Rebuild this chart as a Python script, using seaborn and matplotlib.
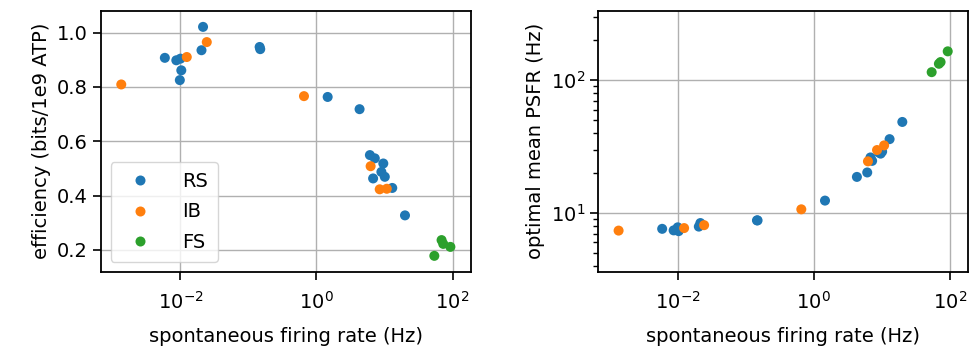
import numpy as np
import pandas as pd
import matplotlib
matplotlib.use("Agg")
import matplotlib.pyplot as plt
import matplotlib.ticker as mticker
import seaborn as sns

# values
rs_rate = [0.0059, 0.0087, 0.0100, 0.0103, 0.0098, 0.0204, 0.0215, 0.146, 0.149,
           1.46, 4.3, 6.1, 7.2, 6.8, 9.0, 9.6, 10.1, 13.0, 20.0]
rs_eff = [0.907, 0.898, 0.904, 0.861, 0.825, 0.935, 1.021, 0.947, 0.939,
          0.763, 0.718, 0.549, 0.537, 0.463, 0.487, 0.518, 0.469, 0.428, 0.327]
rs_psfr = [7.6, 7.4, 7.8, 7.3, 7.5, 7.9, 8.4, 8.8, 8.8,
           12.4, 18.7, 20.2, 24.7, 26.2, 28.6, 28.0, 29.0, 36.0, 48.5]

ib_rate = [0.00135, 0.0124, 0.0244, 0.655, 6.25, 8.5, 10.8]
ib_eff = [0.809, 0.910, 0.965, 0.766, 0.508, 0.423, 0.425]
ib_psfr = [7.37, 7.7, 8.1, 10.66, 24.5, 29.8, 32.3]

fs_rate = [54, 69, 73, 93]
fs_eff = [0.178, 0.236, 0.222, 0.211]
fs_psfr = [115, 133, 137, 165]

types = ["RS", "IB", "FS"]
colors = ["#1f77b4", "#ff7f0e", "#2ca02c"]

df = pd.DataFrame({
    "rate": rs_rate + ib_rate + fs_rate,
    "eff": rs_eff + ib_eff + fs_eff,
    "psfr": rs_psfr + ib_psfr + fs_psfr,
    "type": ["RS"] * len(rs_rate) + ["IB"] * len(ib_rate) + ["FS"] * len(fs_rate),
})

sns.set_style("ticks")
plt.rcParams["font.family"] = ["DejaVu Sans"]
plt.rcParams["font.size"] = 14
for k in ["text.color", "axes.labelcolor", "xtick.color", "ytick.color"]:
    plt.rcParams[k] = "black"

fig = plt.figure(figsize=(9.79, 3.5), dpi=100)
ax1 = fig.add_axes([0.103, 0.224, 0.378, 0.745])
ax2 = fig.add_axes([0.611, 0.224, 0.378, 0.745])

for ax, ycol in [(ax1, "eff"), (ax2, "psfr")]:
    sns.scatterplot(data=df, x="rate", y=ycol, hue="type", hue_order=types,
                    palette=colors, s=52, linewidth=0, ax=ax, legend=(ax is ax1))
    ax.set_xscale("log")
    ax.xaxis.set_major_locator(mticker.FixedLocator([1e-2, 1, 1e2]))
    ax.xaxis.set_minor_locator(mticker.NullLocator())
    ax.set_xlim(10 ** -3.17, 10 ** 2.27)
    ax.grid(True, color="#b0b0b0", linewidth=1)
    ax.set_axisbelow(True)
    ax.set_xlabel("spontaneous firing rate (Hz)", fontsize=14, labelpad=10)
    ax.tick_params(labelsize=14, length=6, width=1.2)
    ax.tick_params(axis="x", pad=8)
    for sp in ax.spines.values():
        sp.set_linewidth(1.3)
        sp.set_color("black")

ax1.set_ylim(0.12, 1.08)
ax1.set_yticks([0.2, 0.4, 0.6, 0.8, 1.0])
ax1.set_ylabel("efficiency (bits/1e9 ATP)", fontsize=14)
ax1.legend(loc="lower left", fontsize=14, labelspacing=0.6, borderpad=0.5,
           handletextpad=1.2, framealpha=0.8)

ax2.set_yscale("log")
ax2.set_ylim(3.62, 333)
ax2.set_ylabel("optimal mean PSFR (Hz)", fontsize=14)
ax2.tick_params(axis="y", which="minor", length=3.5, width=1)

fig.savefig("out.png", dpi=100)
